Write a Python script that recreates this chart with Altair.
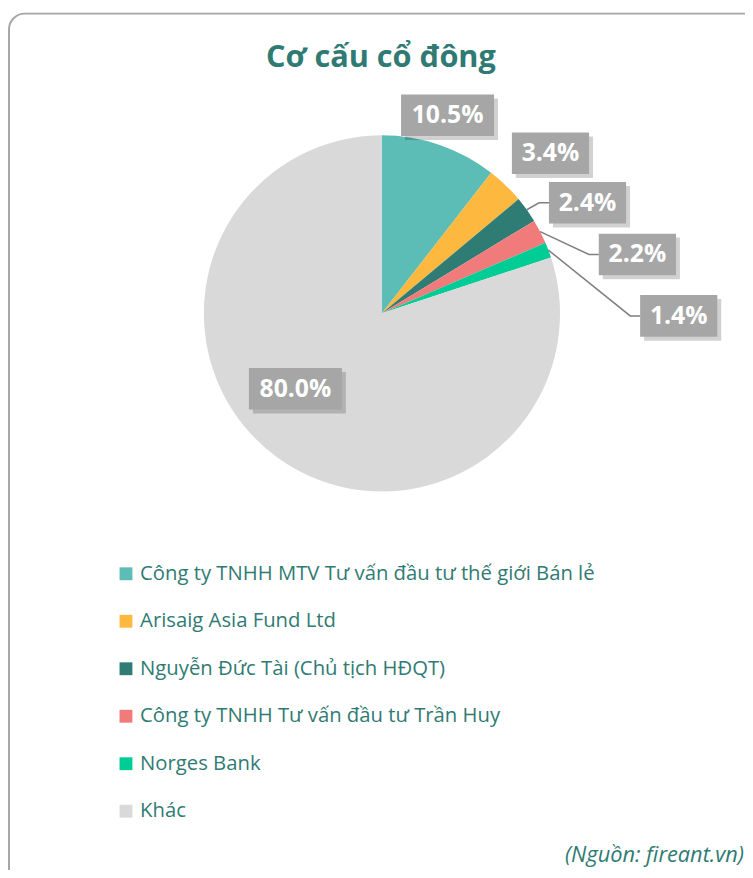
import math
import altair as alt
import pandas as pd

# ---------------- data ----------------
CATEGORIES = [
    "Công ty TNHH MTV Tư vấn đầu tư thế giới Bán lẻ",
    "Arisaig Asia Fund Ltd",
    "Nguyễn Đức Tài (Chủ tịch HĐQT)",
    "Công ty TNHH Tư vấn đầu tư Trần Huy",
    "Norges Bank",
    "Khác",
]
SHARES = [10.5, 3.4, 2.4, 2.2, 1.4, 80.0]
COLORS = ["#5BBDB6", "#FDB93F", "#2F7C74", "#F17A7A", "#00CC96", "#D9D9D9"]
TITLE = "Cơ cấu cổ đông"
SOURCE = "(Nguồn: fireant.vn)"

# ---------------- layout ----------------
W, H = 745, 862
CX, CY = 378, 304          # pie centre inside the svg
R = 180                    # pie radius
LABEL_RADIUS = [211, 235, 236, 265, 300, 116]
LABEL_ANGLE_SHIFT = [-0.6, 2.5, 7.3, 14.3, 21.3, 13.1]
HAS_LEADER = [False, False, True, True, True, False]
TEAL = "#2F7B73"
FONT = "Open Sans"

# ---------------- derived tables ----------------
pie = pd.DataFrame({"category": CATEGORIES, "value": SHARES,
                    "order": list(range(len(SHARES)))})

total = sum(SHARES)
rows, lines = [], []
cum = 0.0
for i, (c, v) in enumerate(zip(CATEGORIES, SHARES)):
    mid = (cum + v / 2) / total * 360.0
    cum += v
    a = math.radians(mid + LABEL_ANGLE_SHIFT[i])
    lx = CX + LABEL_RADIUS[i] * math.sin(a)
    ly = CY - LABEL_RADIUS[i] * math.cos(a)
    txt = f"{v:.1f}%"
    bw = 16 * len(txt) + 14
    bh = 42
    rows.append({"category": c, "text": txt, "lx": lx, "ly": ly,
                 "x0": lx - bw / 2, "x1": lx + bw / 2,
                 "y0": ly - bh / 2, "y1": ly + bh / 2,
                 "sx0": lx - bw / 2 + 4, "sx1": lx + bw / 2 + 4,
                 "sy0": ly - bh / 2 + 4, "sy1": ly + bh / 2 + 4})
    if HAS_LEADER[i]:
        am = math.radians(mid)
        px = CX + R * math.sin(am)
        py = CY - R * math.cos(am)
        left = lx - bw / 2
        lines += [
            {"category": c, "k": 0, "px": px, "py": py},
            {"category": c, "k": 1, "px": left - 10, "py": ly},
            {"category": c, "k": 2, "px": left, "py": ly},
        ]
labels = pd.DataFrame(rows)
leaders = pd.DataFrame(lines)
one = pd.DataFrame({"t": [TITLE], "s": [SOURCE]})

def px(field):
    return alt.X(field, type="quantitative", scale=None, axis=None)

def py(field):
    return alt.Y(field, type="quantitative", scale=None, axis=None)

frame = alt.Chart(one).mark_rect(
    fill="white", stroke="#A6A6A6", strokeWidth=2, cornerRadius=16
).encode(x=alt.value(1), y=alt.value(1), x2=alt.value(1000), y2=alt.value(1000))

title = alt.Chart(one).mark_text(
    font=FONT, fontSize=31, fontWeight="bold", color=TEAL, align="center", baseline="middle"
).encode(text="t:N", x=alt.value(377), y=alt.value(46))

source = alt.Chart(one).mark_text(
    font=FONT, fontSize=22, fontStyle="italic", color=TEAL, align="right", baseline="middle"
).encode(text="s:N", x=alt.value(744), y=alt.value(852))

arcs = alt.Chart(pie).mark_arc(outerRadius=R, stroke=None).encode(
    theta=alt.Theta("value:Q", stack=True),
    order=alt.Order("order:Q"),
    color=alt.Color(
        "category:N",
        scale=alt.Scale(domain=CATEGORIES, range=COLORS),
        sort=CATEGORIES,
        legend=alt.Legend(
            title=None, orient="none", legendX=109, legendY=557,
            direction="vertical", symbolType="square", symbolSize=169,
            symbolStrokeWidth=0, labelFont=FONT, labelFontSize=20.5,
            labelColor=TEAL, labelOffset=4, rowPadding=27, labelLimit=700,
        ),
    ),
    x=alt.value(CX), y=alt.value(CY),
)

leader = alt.Chart(leaders).mark_line(color="#7F7F7F", strokeWidth=1.5).encode(
    x=px("px"), y=py("py"), detail="category:N", order="k:Q"
)

shadow = alt.Chart(labels).mark_rect(fill="black", opacity=0.18).encode(
    x=px("sx0"), x2="sx1", y=py("sy0"), y2="sy1"
)
boxes = alt.Chart(labels).mark_rect(fill="#A6A6A6").encode(
    x=px("x0"), x2="x1", y=py("y0"), y2="y1"
)
texts = alt.Chart(labels).mark_text(
    font=FONT, fontSize=25, fontWeight="bold", color="white",
    align="center", baseline="middle"
).encode(x=px("lx"), y=py("ly"), text="text:N")

chart = alt.layer(frame, title, arcs, leader, shadow, boxes, texts, source).properties(
    width=W, height=H, autosize=alt.AutoSizeParams(type="none"), padding=0
).configure_view(stroke=None)

chart.save("out.html", embed_options={"renderer": "svg", "actions": False})
